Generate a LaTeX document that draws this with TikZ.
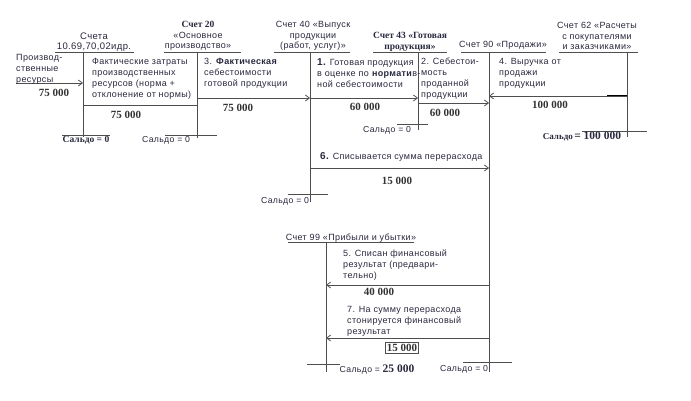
\documentclass[tikz,border=0pt]{standalone}
\usepackage{fontspec}
\setmainfont{Liberation Sans}
\newfontfamily\notefont[LetterSpace=4]{Liberation Sans}
\newfontfamily\serifnum{Liberation Serif}
\usetikzlibrary{arrows.meta,positioning}
\definecolor{ledgerGray}{RGB}{78,78,78}
\definecolor{ledgerInk}{RGB}{40,40,62}

\begin{document}
\begin{tikzpicture}[x=1pt, y=-1pt,
    >={Straight Barb[length=4pt,width=6pt]},
    acc/.style={draw=ledgerGray, line width=0.8pt},
    flow/.style={acc, ->},
    note/.style={inner sep=0pt, anchor=north west, align=left, text=ledgerInk,
      font=\notefont\fontsize{9}{11}\selectfont},
    hdr/.style={inner sep=0pt, align=center, text=ledgerInk,
      font=\notefont\fontsize{9}{10.5}\selectfont},
    sum/.style={inner sep=0pt, text=black!80,
      font=\serifnum\bfseries\fontsize{11}{12}\selectfont},
    saldo/.style={inner sep=0pt, text=ledgerInk,
      font=\notefont\fontsize{8.7}{10}\selectfont}
  ]
  \useasboundingbox (0,0) rectangle (691,401);

  % Account headers
  \node[hdr] (h10) at (94,42) {{\fontsize{9.5}{11}\selectfont Счета}\\{\fontsize{9.5}{11}\selectfont 10.69,70,02идр.}};
  \node[hdr] (h20) at (198,36) {{\serifnum\bfseries\fontsize{9.5}{10.5}\selectfont Счет 20}\\«Основное\\производство»};
  \node[hdr] (h40) at (313,36) {Счет 40 «Выпуск\\продукции\\(работ, услуг)»};
  \node[hdr, font=\serifnum\bfseries\fontsize{9.5}{10.5}\selectfont]
    (h43) at (410,42) {Счет 43 «Готовая\\продукция»};
  \node[hdr] (h90) at (503,45) {Счет 90 «Продажи»};
  \node[hdr] (h62) at (597,36) {Счет 62 «Расчеты\\с покупателями\\и заказчиками»};
  \node[hdr, font=\notefont\fontsize{9}{10}\selectfont] (h99) at (351,238) {Счет 99 «Прибыли и убытки»};

  % Underlines and T-account lines
  \coordinate (t10) at (83,52);   \coordinate (e10) at (83,137);
  \coordinate (t20) at (197,52);  \coordinate (e20) at (197,138);
  \coordinate (t40) at (310,52);  \coordinate (e40) at (310,202);
  \coordinate (t43) at (418,52);  \coordinate (e43) at (418,130);
  \coordinate (t90) at (489,52);  \coordinate (e90) at (489,372);
  \coordinate (t62) at (627,52);  \coordinate (e62) at (627,137);
  \coordinate (t99) at (326,242); \coordinate (e99) at (326,372);
  \draw[acc] (55,52) -- (134,52);
  \draw[acc] (164,52) -- (241,52);
  \draw[acc] (274,52) -- (350,52);
  \draw[acc] (373,52) -- (447,52);
  \draw[acc] (461,52) -- (546,52);
  \draw[acc] (559,52) -- (638,52);
  \draw[acc] (288,242) -- (414,242);
  \foreach \a in {10,20,40,43,90,62,99}
    \draw[acc] (t\a) -- (e\a);

  % Balance lines
  \draw[acc] (62,135) -- (110,135);
  \draw[acc] (165,135) -- (217,135);
  \draw[acc] (288,194) -- (328,194);
  \draw[acc] (397,124) -- (428,124);
  \draw[acc] (582,131) -- (647,131);
  \draw[acc] (463,362) -- (512,362);
  \draw[acc] (307,364) -- (340,364);

  % Entries
  \coordinate (src) at (16,83);
  \coordinate (a10) at (83,83);
  \draw[flow] (src) -- (a10);
  \coordinate (c10) at (83,105);
  \coordinate (c20) at (197,105);
  \draw[acc] (c10) -- (c20);
  \coordinate (d20) at (197,98);
  \coordinate (d40) at (310,98);
  \coordinate (d43) at (418,98);
  \draw[flow] (d20) -- (d40);
  \draw[flow] (d40) -- (d43);
  \coordinate (f43) at (418,103);
  \coordinate (f90) at (489,103);
  \draw[flow] (f43) -- (f90);
  \coordinate (g62) at (627,96);
  \coordinate (g90) at (489,96);
  \draw[flow] (g62) -- (g90);
  \draw[black, line width=1pt] (607,96) -- (g62);
  \coordinate (k40) at (310,168);
  \coordinate (k90) at (489,168);
  \draw[flow] (k40) -- (k90);
  \coordinate (m90) at (489,285);
  \coordinate (m99) at (326,285);
  \draw[flow] (m90) -- (m99);
  \coordinate (p90) at (489,338);
  \coordinate (p99) at (326,338);
  \draw[flow] (p90) -- (p99);

  % Texts of the entries
  \node[note] (res) at (16,54) {Производ-\\ственные\\ресурсы};
  \node[note] (n10) at (92,58) {Фактические затраты\\производственных\\ресурсов (норма +\\отклонение от нормы)};
  \node[note] (n3) at (204,58) {3. \textbf{Фактическая}\\себестоимости\\готовой продукции};
  \node[note] (n1) at (317,58) {{\fontsize{10}{11}\selectfont\bfseries 1.} Готовая продукция\\в оценке по \textbf{нормати}в-\\ной себестоимости};
  \node[note] (n2) at (421,58) {2. Себестои-\\мость\\проданной\\продукции};
  \node[note] (n4) at (499,58) {4. Выручка от\\продажи\\продукции};
  \node[note, anchor=west] (n6) at (320,157) {{\fontsize{10}{11}\selectfont\bfseries 6.} Списывается сумма перерасхода};
  \node[note] (n5) at (343,250) {5. Списан финансовый\\результат (предвари-\\тельно)};
  \node[note] (n7) at (347,306) {7. На сумму перерасхода\\стонируется финансовый\\результат};

  % Sums
  \node[sum] (s0) at (54,93) {75 000};
  \node[sum] (s10) at (126,115) {75 000};
  \node[sum] (s3) at (238,108) {75 000};
  \node[sum] (s1) at (365,107) {60 000};
  \node[sum] (s2) at (445,113) {60 000};
  \node[sum] (s4) at (550,105) {100 000};
  \node[sum] (s6) at (397,181) {15 000};
  \node[sum] (s5) at (379,292) {40 000};
  \node[sum, draw=ledgerGray, line width=0.7pt, inner sep=1.5pt] (s7) at (402,348) {15 000};

  % Balances
  \node[saldo, font=\serifnum\bfseries\fontsize{9.5}{10}\selectfont] (b10) at (86,140) {Сальдо = 0};
  \node[saldo] (b20) at (166,140) {Сальдо = 0};
  \node[saldo] (b40) at (285,201) {Сальдо = 0};
  \node[saldo] (b43) at (387,130) {Сальдо = 0};
  \node[saldo] (b62) at (582,136) {{\serifnum\bfseries\fontsize{9}{10}\selectfont Сальдо}\,{\serifnum\bfseries\fontsize{11.5}{12}\selectfont = 100 000}};
  \node[saldo] (b90) at (464,369) {Сальдо = 0};
  \node[saldo] (b99) at (377,370) {Сальдо = {\serifnum\bfseries\fontsize{11.5}{12}\selectfont 25 000}};
\end{tikzpicture}
\end{document}
